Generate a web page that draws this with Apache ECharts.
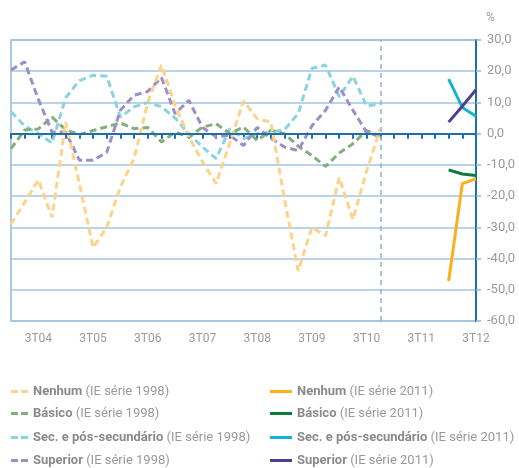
<!DOCTYPE html>
<html lang="pt">
<head>
<meta charset="UTF-8">
<title></title>
<style>
  html, body { margin: 0; padding: 0; background: #fff; }
</style>
</head>
<body>
<div id="chart" style="width:519px;height:468px;"></div>
<script src="https://cdn.jsdelivr.net/npm/echarts@6/dist/echarts.min.js"></script>
<script>
var quarters = ['1T04','2T04','3T04','4T04','1T05','2T05','3T05','4T05',
                '1T06','2T06','3T06','4T06','1T07','2T07','3T07','4T07',
                '1T08','2T08','3T08','4T08','1T09','2T09','3T09','4T09',
                '1T10','2T10','3T10','4T10','1T11','2T11','3T11','4T11',
                '1T12','2T12','3T12'];

// série 1998: 1T04 .. 4T10
var nenhum1998 = [-29,-22,-14.8,-26.8,3.7,-16,-36.5,-30,-17,-8,10,22,9,-1,-9,-16,-3,10.5,4.8,3.7,-21,-44,-30,-32.7,-14,-27.5,-12,1.6];
var basico1998 = [-4.8,1.2,1.5,5.3,1.2,-0.3,1,2.2,3.4,1.6,2,-2.7,0.5,-1.1,2.1,3.2,0,2.1,-2.2,1.1,0,-4,-7,-10.5,-6.2,-3.2,1,-0.7];
var sec1998    = [7,2.5,0,-3,11.5,17,18.7,18.4,5.3,8.6,10,8.6,5,0,-4.3,-8,1.6,-1.6,0,0.5,1.3,6.4,20.9,22,11.8,18.4,8.8,9.6];
var sup1998    = [20.4,23,11,0.5,0.5,-8.5,-8.5,-6,7.5,12.3,13.5,18,6.4,10.7,2,-1,-0.5,-3.8,2,-1.5,-4.3,-5.4,2.5,7.5,15,7.5,0.5,-1];

// série 2011: 1T12 .. 3T12
var nenhum2011 = [-47.2,-16,-14.5];
var basico2011 = [-11.6,-12.9,-13.4];
var sec2011    = [17.5,8.4,5.6];
var sup2011    = [3.7,8.8,14.1];

var start2011 = quarters.indexOf('1T12');
var breakQuarter = '4T10';

function pad2011(vals){
  var out = [];
  for (var i = 0; i < start2011; i++) out.push(null);
  return out.concat(vals);
}

function dashed(name, color, data){
  return {
    name: name, type: 'line', data: data, showSymbol: false, symbol: 'none',
    lineStyle: { color: color, width: 3, type: [7, 4] },
    itemStyle: { color: color },
    z: 3
  };
}
function solid(name, color, data){
  return {
    name: name, type: 'line', data: pad2011(data), showSymbol: false, symbol: 'none',
    lineStyle: { color: color, width: 3 },
    itemStyle: { color: color },
    z: 4
  };
}

var n98 = 'Nenhum (IE série 1998)', b98 = 'Básico (IE série 1998)',
    s98 = 'Sec. e pós-secundário (IE série 1998)', u98 = 'Superior (IE série 1998)';
var n11 = 'Nenhum (IE série 2011)', b11 = 'Básico (IE série 2011)',
    s11 = 'Sec. e pós-secundário (IE série 2011)', u11 = 'Superior (IE série 2011)';

var fontFam = 'Roboto';
var legendText = {
  color: '#8c8c8c', fontFamily: fontFam, fontSize: 13,
  rich: {
    b: { fontWeight: 'bold', color: '#8a8a8a', fontFamily: fontFam, fontSize: 13 },
    r: { color: '#9a9a9a', fontFamily: fontFam, fontSize: 13 }
  }
};
function legendFmt(name){
  var k = name.indexOf(' (');
  return '{b|' + name.slice(0, k) + '}{r|' + name.slice(k) + '}';
}

// one legend per entry, two columns of four rows
var legendRows = [[n98, n11], [b98, b11], [s98, s11], [u98, u11]];
var legendTops = [385, 407, 431, 454];
var legends = [];
legendRows.forEach(function (row, r) {
  legends.push({
    left: 11, top: legendTops[r], padding: 0, itemWidth: 17, itemHeight: 3,
    icon: 'path://M0,0h7v3h-7z M10,0h7v3h-7z',
    data: [row[0]], formatter: legendFmt, textStyle: legendText
  });
  legends.push({
    left: 270, top: legendTops[r], padding: 0, itemWidth: 22, itemHeight: 3,
    icon: 'rect',
    data: [row[1]], formatter: legendFmt, textStyle: legendText
  });
});

var zeroSeries = dashed(s98, '#8ad4e0', sec1998);
zeroSeries.markLine = {
  silent: true, symbol: 'none', label: { show: false }, animation: false,
  data: [
    { yAxis: 0, lineStyle: { color: '#1f6fa8', width: 2, type: 'solid' } },
    { xAxis: breakQuarter, lineStyle: { color: '#8fb3d6', width: 1.5, type: [5, 4] } }
  ]
};
zeroSeries.z = 2;

var chart = echarts.init(document.getElementById('chart'));
chart.setOption({
  animation: false,
  grid: { left: 11, right: 43, top: 40, bottom: 147, show: true, borderColor: '#8fb8dc', borderWidth: 1.5 },
  legend: legends,
  xAxis: {
    type: 'category', data: quarters, boundaryGap: false,
    axisLine: { lineStyle: { color: '#1f6fa8', width: 2 } },
    axisTick: { show: true, interval: 0, length: 5, lineStyle: { color: '#1f6fa8', width: 2 } },
    axisLabel: {
      interval: function (idx) { return idx % 4 === 2; },
      color: '#9a9a9a', fontFamily: fontFam, fontSize: 12, margin: 12
    },
    splitLine: { show: false }
  },
  yAxis: {
    type: 'value', position: 'right', min: -60, max: 30, interval: 10,
    name: '%', nameGap: 16,
    nameTextStyle: { color: '#9a9a9a', fontFamily: fontFam, fontSize: 12, align: 'left', padding: [0, 0, 0, 10] },
    axisLine: { show: true, lineStyle: { color: '#1f6fa8', width: 2 } },
    axisTick: { show: true, length: 5, lineStyle: { color: '#8fb8dc', width: 1.5 } },
    axisLabel: {
      color: '#9a9a9a', fontFamily: fontFam, fontSize: 13, margin: 11,
      formatter: function (v) { return v.toFixed(1).replace('.', ','); }
    },
    splitLine: { show: true, lineStyle: { color: '#a3c4e0', width: 1.5 } }
  },
  series: [
    zeroSeries,
    dashed(b98, '#84ae7e', basico1998),
    dashed(u98, '#9d8ec8', sup1998),
    dashed(n98, '#fdd38c', nenhum1998),
    solid(n11, '#fbb01a', nenhum2011),
    solid(b11, '#0b7a3b', basico2011),
    solid(s11, '#12b4cf', sec2011),
    solid(u11, '#513c8f', sup2011)
  ]
});
</script>
</body>
</html>
